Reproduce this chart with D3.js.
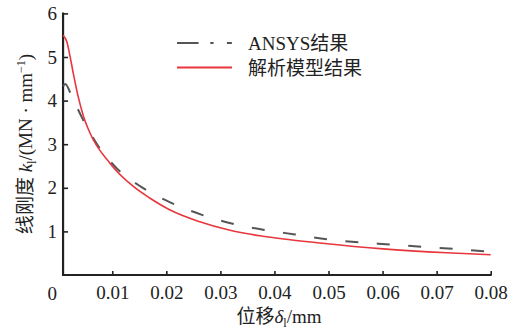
<!DOCTYPE html>
<html>
<head>
<meta charset="utf-8">
<script src="https://cdn.jsdelivr.net/npm/d3@7"></script>
<style>
  body { margin: 0; background: #fff; }
  text { font-family: "Liberation Serif", "Noto Sans CJK SC", serif; fill: #222; }
</style>
</head>
<body>
<div id="chart"></div>
<script>
// x ticks (mm) and y ticks (MN/mm)
const xTicks = [0.01, 0.02, 0.03, 0.04, 0.05, 0.06, 0.07, 0.08];
const yTicks = [1, 2, 3, 4, 5, 6];

// ANSYS results
const ansysX = [0.0009, 0.0013, 0.0025, 0.0044, 0.0074, 0.0108, 0.0155, 0.0208, 0.0266, 0.0321,
                0.0379, 0.0438, 0.0497, 0.0555, 0.0614, 0.0672, 0.0731, 0.08];
const ansysY = [4.33, 4.38, 4.10, 3.61, 2.96, 2.45, 2.01, 1.66, 1.38, 1.18,
                1.04, 0.93, 0.82, 0.75, 0.70, 0.65, 0.60, 0.535];

// analytical model results
const modelX = [0.0009, 0.0016, 0.0022, 0.0028, 0.0037, 0.0046, 0.0059, 0.0096, 0.0139, 0.017,
                0.0207, 0.0262, 0.0316, 0.0373, 0.0429, 0.0484, 0.0601, 0.0719, 0.08];
const modelY = [5.50, 5.35, 5.01, 4.62, 4.09, 3.67, 3.25, 2.56, 2.03, 1.76,
                1.49, 1.22, 1.03, 0.90, 0.81, 0.735, 0.60, 0.51, 0.465];

const legendLabels = ["ANSYS结果", "解析模型结果"];

const width = 517, height = 332;
const FONT = '"Liberation Serif", "Noto Sans CJK SC", serif';

const svg = d3.select("#chart")
    .append("svg")
    .attr("width", width)
    .attr("height", height);

const x = d3.scaleLinear().domain([0, 0.08]).range([58.2, 490.7]);
const y = d3.scaleLinear().domain([0, 6]).range([275, 13.4]);

const x0 = x(modelX[0]);   // where the y axis sits

// x axis
const xAxis = svg.append("g")
    .attr("transform", `translate(0, ${y(0)})`)
    .call(d3.axisBottom(x).tickValues(xTicks).tickSize(-4).tickPadding(11)
        .tickFormat(d3.format(".2f")));
xAxis.select(".domain").remove();
xAxis.selectAll(".tick line").attr("stroke", "#222").attr("stroke-width", 1.6);
xAxis.selectAll("text")
    .style("font-family", FONT).style("font-size", "19px").attr("fill", "#222");

svg.append("line")
    .attr("x1", x0 - 1).attr("x2", x(0.08) + 1)
    .attr("y1", y(0)).attr("y2", y(0))
    .attr("stroke", "#222").attr("stroke-width", 2.2);

// origin label
svg.append("text")
    .attr("x", x(0) - 6)
    .attr("y", y(0) + 25)
    .attr("text-anchor", "middle")
    .style("font-size", "19px")
    .text("0");

// y axis
const yAxis = svg.append("g")
    .attr("transform", `translate(${x0}, 0)`)
    .call(d3.axisLeft(y).tickValues(yTicks).tickSize(-5).tickPadding(6)
        .tickFormat(d3.format("d")));
yAxis.select(".domain").remove();
yAxis.selectAll(".tick line").attr("stroke", "#222").attr("stroke-width", 1.6);
yAxis.selectAll("text")
    .style("font-family", FONT).style("font-size", "19px").attr("fill", "#222");

svg.append("line")
    .attr("x1", x0).attr("x2", x0)
    .attr("y1", y(6) - 1).attr("y2", y(0) + 1)
    .attr("stroke", "#222").attr("stroke-width", 2.2);

// curves
const line = d3.line()
    .x(d => x(d[0]))
    .y(d => y(d[1]))
    .curve(d3.curveMonotoneX);

svg.append("path")
    .datum(d3.zip(ansysX, ansysY))
    .attr("d", line)
    .attr("fill", "none")
    .attr("stroke", "#555")
    .attr("stroke-width", 2)
    .attr("stroke-dasharray", "13,18.5");

svg.append("path")
    .datum(d3.zip(modelX, modelY))
    .attr("d", line)
    .attr("fill", "none")
    .attr("stroke", "#e8363c")
    .attr("stroke-width", 1.6);

// legend
const legend = svg.append("g").attr("transform", "translate(177, 43)");

legend.append("line")
    .attr("x1", 0).attr("x2", 55).attr("y1", 0).attr("y2", 0)
    .attr("stroke", "#555").attr("stroke-width", 2)
    .attr("stroke-dasharray", "21.6,11.7,3.3,13.3,5");

legend.append("line")
    .attr("x1", 0).attr("x2", 55).attr("y1", 24.5).attr("y2", 24.5)
    .attr("stroke", "#e8363c").attr("stroke-width", 1.8);

legend.selectAll(".legend-label")
    .data(legendLabels)
    .enter()
    .append("text")
    .attr("class", "legend-label")
    .attr("x", 71)
    .attr("y", (d, i) => 7 + i * 24.5)
    .style("font-size", "19px")
    .text(d => d);

// x axis title
const xTitle = svg.append("text")
    .attr("x", 279)
    .attr("y", 323)
    .attr("text-anchor", "middle")
    .style("font-size", "19px");
xTitle.append("tspan").text("位移");
xTitle.append("tspan").style("font-style", "italic").text("δ");
xTitle.append("tspan").attr("dy", 4).style("font-size", "12px").text("l");
xTitle.append("tspan").attr("dy", -4).text("/mm");

// y axis title
const yTitle = svg.append("text")
    .attr("transform", "translate(32, 144) rotate(-90)")
    .attr("text-anchor", "middle")
    .style("font-size", "19px");
yTitle.append("tspan").text("线刚度 ");
yTitle.append("tspan").style("font-style", "italic").text("k");
yTitle.append("tspan").attr("dy", 4).style("font-size", "12px").text("l");
yTitle.append("tspan").attr("dy", -4).text("/(MN · mm");
yTitle.append("tspan").attr("dy", -7).style("font-size", "12px").text("−1");
yTitle.append("tspan").attr("dy", 7).text(")");
</script>
</body>
</html>
